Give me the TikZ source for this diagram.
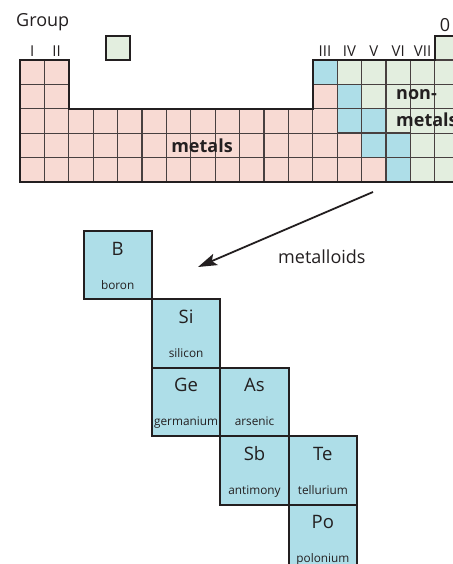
\documentclass[tikz,border=0pt]{standalone}
\usepackage{fontspec}
\setmainfont{Open Sans}
\usetikzlibrary{arrows.meta}
\definecolor{metalpink}{RGB}{248,218,211}
\definecolor{nonmetgreen}{RGB}{227,238,223}
\definecolor{loidblue}{RGB}{174,222,232}
\definecolor{gridgray}{RGB}{72,64,64}
\definecolor{inkdark}{RGB}{35,31,32}
\begin{document}
\begin{tikzpicture}[x=1pt, y=-1pt, inner sep=0pt, text=inkdark,
  cell/.style={draw=gridgray, line width=1.2pt},
  elbox/.style={draw=inkdark, fill=loidblue, line width=2pt, minimum size=68.4pt},
  symb/.style={anchor=base, font=\fontsize{18.5}{20}\selectfont},
  elname/.style={anchor=base, font=\fontsize{11.8}{13}\selectfont},
  grp/.style={anchor=base, font=\fontsize{15}{17}\selectfont},
  bigtxt/.style={font=\fontsize{18}{20}\selectfont},
  boldtxt/.style={font=\bfseries\fontsize{18}{20}\selectfont}]
  \useasboundingbox (0,0) rectangle (452,564);
  \def\cw{24.4}
  % Gruppen I und II
  \foreach \c in {0,1} \foreach \r in {0,...,4}
    \filldraw[cell, fill=metalpink] (20+\c*\cw, 60+\r*\cw) rectangle ++(\cw,\cw);
  % Uebergangsmetalle
  \foreach \c in {2,...,11} \foreach \r in {2,3,4}
    \filldraw[cell, fill=metalpink] (20+\c*\cw, 60+\r*\cw) rectangle ++(\cw,\cw);
  % Gruppen III bis 0 -- Treppe der Halbmetalle
  \foreach \r/\lo/\hi in {0/12/12,1/13/13,2/13/14,3/14/15,4/15/15} {
    \foreach \c in {12,...,17} {
      \ifnum\c<\lo \def\fc{metalpink}\else
        \ifnum\c>\hi \def\fc{nonmetgreen}\else \def\fc{loidblue}\fi\fi
      \filldraw[cell, fill=\fc] (20+\c*\cw, 60+\r*\cw) rectangle ++(\cw,\cw);
    }
  }
  \foreach \r/\c in {0/12,1/13,2/13,2/14,3/14,3/15,4/15}
    \draw[gridgray, line width=1.4pt] (20+\c*\cw, 60+\r*\cw) rectangle ++(\cw,\cw);
  \filldraw[cell, fill=nonmetgreen] (20+17*\cw, 60-\cw) rectangle ++(\cw,\cw);
  % Umriss
  \draw[inkdark, line width=2pt] (20,60) -- ++(2*\cw,0) -- ++(0,2*\cw)
    -- (20+12*\cw, 60+2*\cw) -- (20+12*\cw, 60) -- (20+17*\cw, 60)
    -- ++(0,-\cw) -- ++(\cw,0) -- (20+18*\cw, 60+5*\cw) -- (20, 60+5*\cw) -- cycle;
  \filldraw[fill=nonmetgreen, draw=inkdark, line width=2pt] (105.6,35.8) rectangle ++(\cw,\cw);
  % Beschriftung
  \node[bigtxt, anchor=base west] (grplbl) at (16,27) {Group};
  \foreach \c/\g in {0/I,1/II,12/III,13/IV,14/V,15/VI,16/VII}
    \node[grp] (g\g) at (20+\c*\cw+\cw/2, 57) {\g};
  \node[bigtxt, anchor=base] (g0) at (445,32) {0};
  \node[boldtxt, anchor=base] (metlbl) at (202,153) {metals};
  \node[boldtxt, anchor=base west] (nonlbl) at (396,100) {non-};
  \node[boldtxt, anchor=base west] (nonlblb) at (396,126.5) {metals};
  \node[bigtxt, anchor=base west] (loidlbl) at (278,263) {metalloids};
  % Pfeil
  \coordinate (arrtail) at (373,192);
  \coordinate (arrtip) at (198,267);
  \draw[inkdark, line width=1.8pt, -{Stealth[length=19pt, width=12pt, inset=4pt]}] (arrtail) -- (arrtip);
  % Halbmetalle vergroessert
  \foreach \el/\nm/\i/\j in {B/boron/0/0, Si/silicon/1/1, Ge/germanium/1/2,
      As/arsenic/2/2, Sb/antimony/2/3, Te/tellurium/3/3, Po/polonium/3/4} {
    \node[elbox] (\el) at (117.7+\i*68.4, 265.2+\j*68.4) {};
    \node[symb] (\el sym) at ([yshift=-25pt]\el.north) {\el};
    \node[elname] (\el nm) at ([yshift=-59pt]\el.north) {\nm};
  }
\end{tikzpicture}
\end{document}
